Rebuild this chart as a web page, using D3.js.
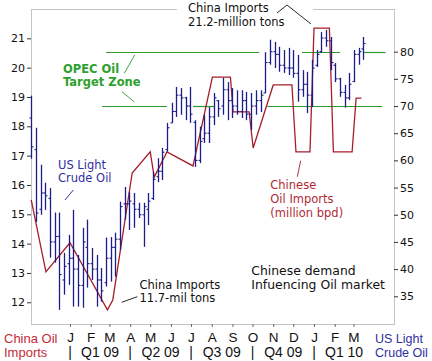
<!DOCTYPE html>
<html><head><meta charset="utf-8">
<script src="https://cdn.jsdelivr.net/npm/d3@7"></script>
<style>body{margin:0;background:#fff}</style>
</head><body>
<svg id="c" width="432" height="361"></svg>
<script>
// ---- DATA ----
const weekStart = "2008-11-04"; // weekly bars
const crudeOpen  = [67.8,62,51,54,53,45,46,38,41,42,40,37,44,41,40,38,37.5,42,44,45.5,52,52,52,51,50,51,53,57,58,62,66.9,69,72,71.5,70,67,60,64,65,68,71,70,73,71,70,69,71,68.5,70,71,72.4,78,80,79.5,77.5,77,77,76,73,74,72,77.5,80,82.5,82,77.5,75,72.5,71.5,74.5,79.5,80.5];
const crudeHigh  = [71.9,66.0,59.2,55.9,54.9,50.4,50.4,43.0,46.3,50.9,42.6,47.6,49.1,43.9,42.6,40.2,45.8,45.9,46.7,52.4,55.1,54.2,54.0,52.2,52.2,54.0,57.9,60.4,62.3,66.9,70.6,73.5,73.3,71.7,73.5,67.4,66.2,68.4,69.8,72.4,71.1,75.2,74.4,73.3,72.9,72.9,72.6,72.4,72.9,72.9,79.9,82.2,81.8,80.9,80.3,80.7,80.3,79.4,76.6,76.3,78.5,80.3,83.6,84.0,82.7,77.9,75.2,73.9,76.1,80.3,80.7,82.7];
const crudeLow   = [60.3,48.7,50.0,50.9,42.1,41.2,32.5,35.3,37.1,33.1,33.1,32.9,36.6,38.0,33.1,34.0,36.8,37.7,38.6,43.5,49.1,47.2,47.6,49.4,44.1,48.1,52.7,56.0,56.4,61.6,66.9,68.0,68.4,67.4,66.9,58.8,59.5,63.2,63.2,66.5,68.0,68.4,67.4,67.8,68.4,67.8,67.4,65.6,68.4,68.9,72.4,77.6,77.0,76.3,76.1,75.7,75.2,70.8,71.7,68.7,69.8,77.2,79.8,80.9,76.6,74.4,71.7,69.7,71.1,74.4,77.6,78.5];
const crudeClose = [62.5,50.3,54,53.5,45,46,39,40.5,42,40,37,45,41,40,38,36,42,44,45.5,51.5,52,52.5,51,50,51.5,52.5,56.5,58,61.5,66,69,72,71.5,70,68.5,60,63.5,65,68,71.5,69.5,73,71,70,69,71,68.5,70,71,72,78,80,79.5,77.5,77,77,76,73,74,72,77,79.5,82.5,82,78,75,72.5,71.5,74,79.5,80,81.5];

const importDates  = ["2008-11-04","2008-11-26","2009-01-01","2009-02-26","2009-03-06","2009-04-04","2009-05-01","2009-05-07","2009-05-26","2009-07-04","2009-08-02","2009-08-29","2009-09-02","2009-09-26","2009-10-02","2009-11-01","2009-11-29","2009-12-05","2009-12-26","2010-01-01","2010-01-24","2010-01-30","2010-02-27","2010-03-05","2010-03-13"];
const importValues = [15.49,13.04,14.03,11.74,12.08,16.41,17.13,16.27,17.13,16.65,19.68,19.68,18.49,18.49,17.26,19.41,19.41,17.13,17.13,21.35,21.35,17.13,17.13,18.96,18.96];

const leftTicks  = [12,13,14,15,16,17,18,19,20,21];
const rightTicks = [35,40,45,50,55,60,65,70,75,80];
const monthLabels = ["J","F","M","A","M","J","J","A","S","O","N","D","J","F","M"];
const quarterLabels = ["Q1 09","Q2 09","Q3 09","Q4 09","Q1 10"];
const opecLevels = [80, 70];
const opecSegments = [
  [["2009-02-24","2009-10-11"],["2009-12-14","2010-02-09"],["2010-03-17","2010-04-18"]],
  [["2009-02-18","2009-05-26"],["2009-07-04","2009-08-06"],["2009-10-23","2010-04-13"]]
];

// ---- CHART ----
const parse = d3.timeParse("%Y-%m-%d");
const svg = d3.select("#c");
const L = 31, R = 394, T = 9, B = 324;
const x = d3.scaleTime().domain([new Date(2009,0,1), new Date(2010,0,1)]).range([70,314]);
const yL = d3.scaleLinear().domain([11.26, 22.0]).range([B, T]);
const yR = d3.scaleLinear().domain([29.9, 87.85]).range([B, T]);

const navy = "#1d1d8a", red = "#a51e2c", green = "#2f9a2f";
const font = "DejaVu Sans, Verdana, sans-serif";
const arial = "Liberation Sans, Arial, sans-serif";

// frame
svg.append("rect").attr("x",L+0.5).attr("y",T+0.5).attr("width",R-L).attr("height",B-T)
  .attr("fill","none").attr("stroke","#c4c4c4");

// OPEC zone lines
opecLevels.forEach((lv,k)=>{
  opecSegments[k].forEach(s=>{
    svg.append("line").attr("x1",x(parse(s[0]))).attr("x2",x(parse(s[1])))
      .attr("y1",Math.round(yR(lv))+0.5).attr("y2",Math.round(yR(lv))+0.5)
      .attr("stroke",green).attr("stroke-width",1.2);
  });
});

// red imports line
const imp = importDates.map((d,i)=>({d:parse(d), v:importValues[i]}));
svg.append("path").datum(imp)
  .attr("d", d3.line().x(d=>x(d.d)).y(d=>yL(d.v)))
  .attr("fill","none").attr("stroke",red).attr("stroke-width",1.3);

// OHLC bars
const w0 = parse(weekStart);
const bars = crudeHigh.map((h,i)=>({d:d3.timeDay.offset(w0,7*i), o:crudeOpen[i], h, l:crudeLow[i], c:crudeClose[i]}));
const g = svg.append("g").attr("stroke",navy).attr("stroke-width",1.3);
bars.forEach(b=>{
  const cx = Math.round(x(b.d))+0.5;
  g.append("line").attr("x1",cx).attr("x2",cx).attr("y1",yR(b.h)).attr("y2",yR(b.l));
  g.append("line").attr("x1",cx-2).attr("x2",cx).attr("y1",yR(b.o)).attr("y2",yR(b.o)).attr("stroke-width",1.1);
  g.append("line").attr("x1",cx).attr("x2",cx+2).attr("y1",yR(b.c)).attr("y2",yR(b.c)).attr("stroke-width",1.1);
});

// axes
const axL = svg.append("g").attr("transform",`translate(${L},0)`)
  .call(d3.axisLeft(yL).tickValues(leftTicks).tickSize(4).tickPadding(2).tickFormat(d3.format("d")));
const axR = svg.append("g").attr("transform",`translate(${R},0)`)
  .call(d3.axisRight(yR).tickValues(rightTicks).tickSize(4).tickPadding(2).tickFormat(d3.format("d")));
[axL,axR].forEach(a=>{
  a.select(".domain").remove();
  a.selectAll("line").attr("stroke","#333");
  a.selectAll("text").attr("font-family",font).attr("font-size","11px").attr("fill","#111");
});
const months = d3.timeMonth.range(new Date(2009,0,1), new Date(2010,3,1));
const axB = svg.append("g").attr("transform",`translate(0,${B})`)
  .call(d3.axisBottom(x).tickValues(months).tickSize(3).tickPadding(5).tickFormat((d,i)=>monthLabels[i]));
axB.select(".domain").remove();
axB.selectAll("line").attr("stroke","#666");
axB.selectAll("text").attr("font-family",arial).attr("font-size","13.5px").attr("fill","#111");

// quarter row
const qStarts = d3.timeMonth.every(3).range(new Date(2009,0,1), new Date(2010,0,2));
qStarts.forEach((q,i)=>{
  svg.append("text").attr("x",x(q)).attr("y",357).attr("text-anchor","middle")
    .attr("font-family",arial).attr("font-size","14px").attr("fill","#111").text("|");
  const next = d3.timeMonth.offset(q,3);
  svg.append("text").attr("x",(x(q)+x(next))/2).attr("y",357).attr("text-anchor","middle")
    .attr("font-family",arial).attr("font-size","14px").attr("fill","#111").text(quarterLabels[i]);
});

// axis titles
function txt(s,xx,yy,opt){
  const t = svg.append("text").attr("x",xx).attr("y",yy).text(s)
    .attr("font-family",opt.ff||font).attr("font-size",opt.fs||"11.5px").attr("fill",opt.fill||"#111");
  if(opt.fw) t.attr("font-weight",opt.fw);
  return t;
}
txt("China Oil",4,343,{ff:arial,fs:"13px",fill:"#c42a3a"});
txt("Imports",4,357,{ff:arial,fs:"13px",fill:"#c42a3a"});
txt("US Light",375,343,{ff:arial,fs:"12.5px",fill:"#2f2fa0"});
txt("Crude Oil",375,357,{ff:arial,fs:"12.5px",fill:"#2f2fa0"});

// top annotation with white box
svg.append("rect").attr("x",177).attr("y",0).attr("width",136).attr("height",26).attr("fill","#fff");
txt("China Imports",188,12,{});
txt("21.2-million tons",188,25.5,{});
svg.append("polyline").attr("points","277,13 287,5 311,24").attr("fill","none").attr("stroke","#111").attr("stroke-width",0.9);

// OPEC label
txt("OPEC Oil",63,73,{fill:"#2ea02e",fw:"bold"});
txt("Target Zone",63,85.5,{fill:"#2ea02e",fw:"bold"});
svg.append("line").attr("x1",124.3).attr("y1",73.3).attr("x2",134.7).attr("y2",55).attr("stroke",green).attr("stroke-width",0.9);
svg.append("line").attr("x1",122).attr("y1",91.7).attr("x2",134).attr("y2",101.7).attr("stroke",green).attr("stroke-width",0.9);

// US Light label
txt("US Light",58,168.5,{fill:"#2f2fa0"});
txt("Crude Oil",58,182,{fill:"#2f2fa0"});
svg.append("line").attr("x1",65).attr("y1",200).attr("x2",73.3).attr("y2",190).attr("stroke",navy).attr("stroke-width",0.9);

// low annotation
txt("China Imports",139.5,288.5,{});
txt("11.7-mil tons",139.5,301.5,{});
svg.append("line").attr("x1",121.7).attr("y1",302.3).attr("x2",137.3).attr("y2",296.7).attr("stroke","#111").attr("stroke-width",0.9);

// Chinese oil imports label
txt("Chinese",270.3,189.3,{fill:"#b02a36"});
txt("Oil Imports",270.3,202.7,{fill:"#b02a36"});
txt("(million bpd)",270.3,216.5,{fill:"#b02a36"});
svg.append("line").attr("x1",297.3).attr("y1",176.7).attr("x2",300.7).attr("y2",160.7).attr("stroke",red).attr("stroke-width",0.9);

// Chinese demand label
txt("Chinese demand",251.3,275,{fs:"12.4px"});
txt("Infuencing Oil market",251.3,289.3,{fs:"12.4px"});
</script>
</body></html>
